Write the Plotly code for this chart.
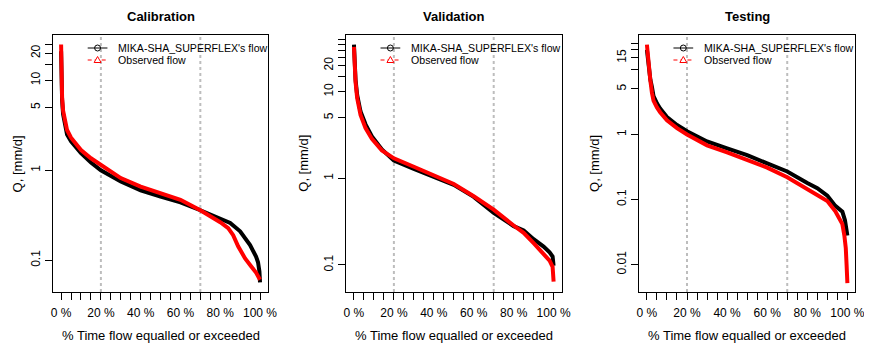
import plotly.graph_objects as go

# page body has an 8px margin: the figure is drawn 8px in from the window's top-left corner
OFF = 8
W, H = 872 - OFF, 344 - OFF

# ---------------- data (exceedance % , Q in mm/d) ----------------
cal_obs_pct = [0, 0.2, 0.5, 1, 1.5, 3, 5, 7.5, 10, 15, 20, 30, 40, 50, 60, 70, 75, 80, 84, 86.5, 89, 92.5, 95.5, 98, 100]
cal_obs = [25, 12, 6.5, 4.6, 4.0, 2.8, 2.3, 1.95, 1.68, 1.36, 1.15, 0.82, 0.66, 0.555, 0.47, 0.36, 0.31, 0.265, 0.228, 0.19, 0.143, 0.105, 0.086, 0.073, 0.061]
cal_sim_pct = [0, 0.2, 0.5, 1, 1.5, 3, 5, 7.5, 10, 15, 20, 30, 40, 50, 60, 70, 75, 80, 85, 90, 92.5, 95, 98, 99, 99.7, 100]
cal_sim = [21, 11, 6.0, 4.2, 3.6, 2.5, 2.1, 1.8, 1.55, 1.22, 1.0, 0.75, 0.6, 0.51, 0.44, 0.36, 0.325, 0.29, 0.26, 0.21, 0.175, 0.148, 0.11, 0.095, 0.075, 0.057]

val_pct = [0, 0.3, 0.8, 1.6, 3.3, 5.8, 9, 14, 20, 30, 40, 50, 60, 70, 80, 85, 90, 95, 98, 99.5, 100]
val_obs = [33, 20, 13, 8.5, 5.4, 3.8, 2.85, 2.1, 1.7, 1.36, 1.09, 0.86, 0.62, 0.435, 0.285, 0.235, 0.178, 0.135, 0.112, 0.095, 0.064]
val_sim = [35, 21, 13.8, 9.2, 5.9, 4.2, 3.05, 2.15, 1.6, 1.28, 1.03, 0.84, 0.61, 0.40, 0.28, 0.25, 0.198, 0.163, 0.14, 0.125, 0.098]

tst_obs_pct = [0, 0.4, 0.8, 1.7, 2.5, 3.3, 5, 6.6, 10, 15, 20, 30, 40, 50, 60, 70, 80, 85, 90, 94, 97.5, 98.5, 99.2, 99.6, 100]
tst_obs = [24, 16, 12, 6.8, 4.4, 3.3, 2.6, 2.2, 1.65, 1.25, 1.0, 0.68, 0.53, 0.41, 0.31, 0.22, 0.145, 0.12, 0.095, 0.066, 0.042, 0.028, 0.018, 0.01, 0.0052]
tst_sim_pct = [0, 0.4, 0.8, 1.7, 2.5, 3.3, 5, 6.6, 10, 15, 20, 30, 40, 50, 60, 70, 80, 85, 90, 94, 97.5, 98.8, 100]
tst_sim = [20, 15, 11, 7.0, 5.4, 3.9, 3.0, 2.5, 1.85, 1.4, 1.12, 0.78, 0.61, 0.48, 0.36, 0.27, 0.18, 0.15, 0.115, 0.08, 0.065, 0.048, 0.028]

titles = ["Calibration", "Validation", "Testing"]
sim_name = "MIKA-SHA_SUPERFLEX's flow"
obs_name = "Observed flow"

x_ticks = list(range(0, 101, 5))
x_labels = [f"{v} %" if v % 20 == 0 else "" for v in x_ticks]
vlines = [20, 70]

y_ticks = [
    [0.1, 1, 5, 10, 15, 20, 25],
    [0.1, 1, 5, 10, 15, 20, 25, 30, 35, 40],
    [0.01, 0.1, 1, 5, 10, 15, 20, 25],
]
y_labels = [
    ["0.1", "1", "5", "10", "", "20", ""],
    ["0.1", "1", "5", "10", "", "20", "", "", "", ""],
    ["0.01", "0.1", "1", "5", "", "15", "", ""],
]
y_ranges = [[-1.352, 1.503], [-1.313, 1.655], [-2.42, 1.528]]

panels = [
    (cal_sim_pct, cal_sim, cal_obs_pct, cal_obs),
    (val_pct, val_sim, val_pct, val_obs),
    (tst_sim_pct, tst_sim, tst_obs_pct, tst_obs),
]

# ---------------- layout geometry (window pixels) ----------------
box_left = [51.7, 348.3, 645.0]
box_right = [269.3, 566.7, 864.3]
box_top, box_bot = 35.0, 292.0
ylab_x = [16, 305, 600]

FONT = "Liberation Sans, Arial, sans-serif"


def px(x):
    return (x - OFF) / W


def py(y):
    return 1 - (y - OFF) / H


fig = go.Figure()
shapes = []
annotations = []
layout = {}

for i, (sp, sv, op, ov) in enumerate(panels):
    n = "" if i == 0 else str(i + 1)
    xa, ya = "x" + n, "y" + n
    fig.add_trace(go.Scatter(x=sp, y=sv, mode="lines", xaxis=xa, yaxis=ya,
                             line=dict(color="black", width=4), showlegend=False,
                             name=sim_name))
    fig.add_trace(go.Scatter(x=op, y=ov, mode="lines", xaxis=xa, yaxis=ya,
                             line=dict(color="#ff0000", width=4), showlegend=False,
                             name=obs_name))
    layout["xaxis" + n] = dict(
        domain=[px(box_left[i]), px(box_right[i])], anchor=ya, range=[-4, 104],
        tickmode="array", tickvals=x_ticks, ticktext=x_labels,
        ticks="outside", ticklen=7, tickwidth=1, tickcolor="black",
        showline=True, linecolor="black", linewidth=1, mirror=True,
        showgrid=False, zeroline=False,
        tickfont=dict(family=FONT, size=12, color="black"),
        ticklabelstandoff=3,
    )
    layout["yaxis" + n] = dict(
        domain=[py(box_bot), py(box_top)], anchor=xa, type="log",
        range=y_ranges[i], tickmode="array", tickvals=y_ticks[i], ticktext=y_labels[i],
        ticks="outside", ticklen=7, tickwidth=1, tickcolor="black",
        showline=True, linecolor="black", linewidth=1, mirror=True,
        showgrid=False, zeroline=False, tickangle=-90,
        tickfont=dict(family=FONT, size=12, color="black"),
    )
    for v in vlines:
        shapes.append(dict(type="line", xref=xa, yref=ya + " domain", x0=v, x1=v, y0=0, y1=1,
                           line=dict(color="#bdbdbd", width=2, dash="3px,3px"), layer="below"))
    cx = (box_left[i] + box_right[i]) / 2
    annotations.append(dict(text="<b>" + titles[i] + "</b>", x=px(cx), y=py(8), xref="paper", yref="paper",
                            showarrow=False, xanchor="center", yanchor="top", borderpad=0,
                            font=dict(family=FONT, size=13, color="black")))
    annotations.append(dict(text="% Time flow equalled or exceeded", x=px(cx), y=py(335), xref="paper", yref="paper",
                            showarrow=False, xanchor="center", yanchor="middle",
                            font=dict(family=FONT, size=13, color="black")))
    annotations.append(dict(text="Q, [mm/d]", x=px(ylab_x[i]), y=py((box_top + box_bot) / 2),
                            xref="paper", yref="paper", textangle=-90,
                            showarrow=False, xanchor="center", yanchor="middle", borderpad=0,
                            font=dict(family=FONT, size=13, color="black")))
    # manual legend
    L = box_left[i]
    for row, (name, col, dash) in enumerate([(sim_name, "black", "solid"), (obs_name, "#ff0000", "4px,3px")]):
        yy = 48 + 12 * row
        shapes.append(dict(type="line", xref="paper", yref="paper", x0=px(L + 35), x1=px(L + 55),
                           y0=py(yy), y1=py(yy), line=dict(color=col, width=1, dash=dash)))
        mx = L + 45
        if row == 0:
            shapes.append(dict(type="circle", xref="paper", yref="paper", x0=px(mx - 3), x1=px(mx + 3),
                               y0=py(yy + 3), y1=py(yy - 3), line=dict(color=col, width=1),
                               fillcolor="rgba(0,0,0,0)"))
        else:
            path = "M{},{} L{},{} L{},{} Z".format(px(mx - 3.5), py(yy + 2.5), px(mx + 3.5), py(yy + 2.5),
                                                    px(mx), py(yy - 3.5))
            shapes.append(dict(type="path", xref="paper", yref="paper", path=path,
                               line=dict(color=col, width=1), fillcolor="white"))
        annotations.append(dict(text=name, x=px(L + 64), y=py(yy), xref="paper", yref="paper",
                                showarrow=False, xanchor="left", yanchor="middle",
                                font=dict(family=FONT, size=10.6, color="black")))

fig.update_layout(
    width=W, height=H, margin=dict(l=0, r=0, t=0, b=0),
    paper_bgcolor="white", plot_bgcolor="white",
    shapes=shapes, annotations=annotations, showlegend=False,
    font=dict(family=FONT, color="black"),
    **layout,
)

fig.write_html("out.html")
